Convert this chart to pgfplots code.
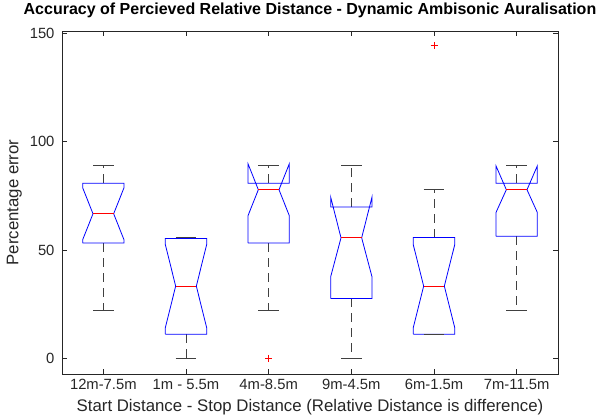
\documentclass[border=0pt]{standalone}
\usepackage{fontspec}
\setmainfont{Liberation Sans}
\usepackage{pgfplots}
\pgfplotsset{compat=1.18}
\definecolor{axgray}{rgb}{0.15,0.15,0.15}
\definecolor{mblue}{rgb}{0,0,1}
\definecolor{mred}{rgb}{1,0,0}
\begin{document}
\begin{tikzpicture}
\useasboundingbox (-62bp,-42bp) rectangle (547bp,374bp);
\begin{axis}[
  scale only axis, width=496bp, height=343bp,
  xmin=0.5, xmax=6.5, ymin=-7.25, ymax=151.05,
  xtick={1,2,3,4,5,6},
  xticklabels={12m-7.5m, 1m - 5.5m, 4m-8.5m, 9m-4.5m, 6m-1.5m, 7m-11.5m},
  ytick={0,50,100,150},
  tick align=inside, major tick length=5bp,
  axis line style={axgray, line width=0.7pt},
  tick style={axgray, line width=0.7pt},
  tick label style={font=\fontsize{14.8bp}{16bp}\selectfont, text=axgray},
  /pgf/number format/assume math mode=true,
  xticklabel style={anchor=base, yshift=-15.5bp},
  yticklabel style={anchor=east, xshift=-4bp},
  xlabel={Start Distance - Stop Distance (Relative Distance is difference)},
  ylabel={Percentage error},
  label style={font=\fontsize{16.8bp}{18bp}\selectfont, text=axgray},
  xlabel style={at={(axis description cs:0.5,0)}, anchor=base, yshift=-37bp},
  ylabel style={at={([xshift=-43.5bp]axis description cs:0,0.5)}, anchor=base},
  title={Accuracy of Percieved Relative Distance - Dynamic Ambisonic Auralisation},
  title style={font=\bfseries\fontsize{16bp}{17bp}\selectfont, at={(axis description cs:0.5,1)}, anchor=base, yshift=10.5bp},
  boxst/.style={mblue, line width=0.8pt, no marks},
  medst/.style={mred, line width=0.8pt, no marks},
  whst/.style={black!75, line width=0.8pt, no marks, dash pattern=on 9bp off 6bp},
  capst/.style={black!75, line width=0.8pt, no marks},
  outst/.style={only marks, mark=+, mark size=3.5bp, mred, mark options={line width=0.7pt}},
]
% ---- Box 1: 12m-7.5m
\addplot[whst] coordinates {(1,80.8) (1,88.9)};
\addplot[whst] coordinates {(1,53.2) (1,22.2)};
\addplot[capst] coordinates {(0.875,88.9) (1.125,88.9)};
\addplot[capst] coordinates {(0.875,22.2) (1.125,22.2)};
\addplot[boxst] coordinates {(0.75,53.2) (0.75,54.7) (0.875,66.7) (0.75,78.7) (0.75,80.8) (1.25,80.8) (1.25,78.7) (1.125,66.7) (1.25,54.7) (1.25,53.2) (0.75,53.2)};
\addplot[medst] coordinates {(0.875,66.7) (1.125,66.7)};
% ---- Box 2: 1m - 5.5m
\addplot[whst] coordinates {(2,55.3) (2,55.6)};
\addplot[whst] coordinates {(2,11.1) (2,0)};
\addplot[capst] coordinates {(1.875,55.6) (2.125,55.6)};
\addplot[capst] coordinates {(1.875,0) (2.125,0)};
\addplot[boxst] coordinates {(1.75,11.1) (1.75,14.1) (1.875,33.3) (1.75,52.5) (1.75,55.3) (2.25,55.3) (2.25,52.5) (2.125,33.3) (2.25,14.1) (2.25,11.1) (1.75,11.1)};
\addplot[medst] coordinates {(1.875,33.3) (2.125,33.3)};
% ---- Box 3: 4m-8.5m
\addplot[whst] coordinates {(3,80.8) (3,88.9)};
\addplot[whst] coordinates {(3,53.2) (3,22.2)};
\addplot[capst] coordinates {(2.875,88.9) (3.125,88.9)};
\addplot[capst] coordinates {(2.875,22.2) (3.125,22.2)};
\addplot[boxst] coordinates {(2.75,53.2) (2.75,65.8) (2.875,77.8) (2.75,89.8) (2.75,80.8) (3.25,80.8) (3.25,89.8) (3.125,77.8) (3.25,65.8) (3.25,53.2) (2.75,53.2)};
\addplot[medst] coordinates {(2.875,77.8) (3.125,77.8)};
\addplot[outst] coordinates {(3,0)};
% ---- Box 4: 9m-4.5m
\addplot[whst] coordinates {(4,69.8) (4,88.9)};
\addplot[whst] coordinates {(4,27.6) (4,0)};
\addplot[capst] coordinates {(3.875,88.9) (4.125,88.9)};
\addplot[capst] coordinates {(3.875,0) (4.125,0)};
\addplot[boxst] coordinates {(3.75,27.6) (3.75,37.6) (3.875,55.6) (3.75,74.4) (3.75,69.8) (4.25,69.8) (4.25,74.4) (4.125,55.6) (4.25,37.6) (4.25,27.6) (3.75,27.6)};
\addplot[medst] coordinates {(3.875,55.6) (4.125,55.6)};
% ---- Box 5: 6m-1.5m
\addplot[whst] coordinates {(5,55.7) (5,77.8)};
\addplot[capst] coordinates {(4.875,77.8) (5.125,77.8)};
\addplot[boxst] coordinates {(4.75,11.1) (4.75,14.3) (4.875,33.3) (4.75,52.3) (4.75,55.7) (5.25,55.7) (5.25,52.3) (5.125,33.3) (5.25,14.3) (5.25,11.1) (4.75,11.1)};
\addplot[capst] coordinates {(4.875,11.1) (5.125,11.1)};
\addplot[medst] coordinates {(4.875,33.3) (5.125,33.3)};
\addplot[outst] coordinates {(5,144.4)};
% ---- Box 6: 7m-11.5m
\addplot[whst] coordinates {(6,80.8) (6,88.9)};
\addplot[whst] coordinates {(6,56.3) (6,22.2)};
\addplot[capst] coordinates {(5.875,88.9) (6.125,88.9)};
\addplot[capst] coordinates {(5.875,22.2) (6.125,22.2)};
\addplot[boxst] coordinates {(5.75,56.3) (5.75,67.3) (5.875,77.8) (5.75,88.8) (5.75,80.8) (6.25,80.8) (6.25,88.8) (6.125,77.8) (6.25,67.3) (6.25,56.3) (5.75,56.3)};
\addplot[medst] coordinates {(5.875,77.8) (6.125,77.8)};
\end{axis}
\end{tikzpicture}
\end{document}
